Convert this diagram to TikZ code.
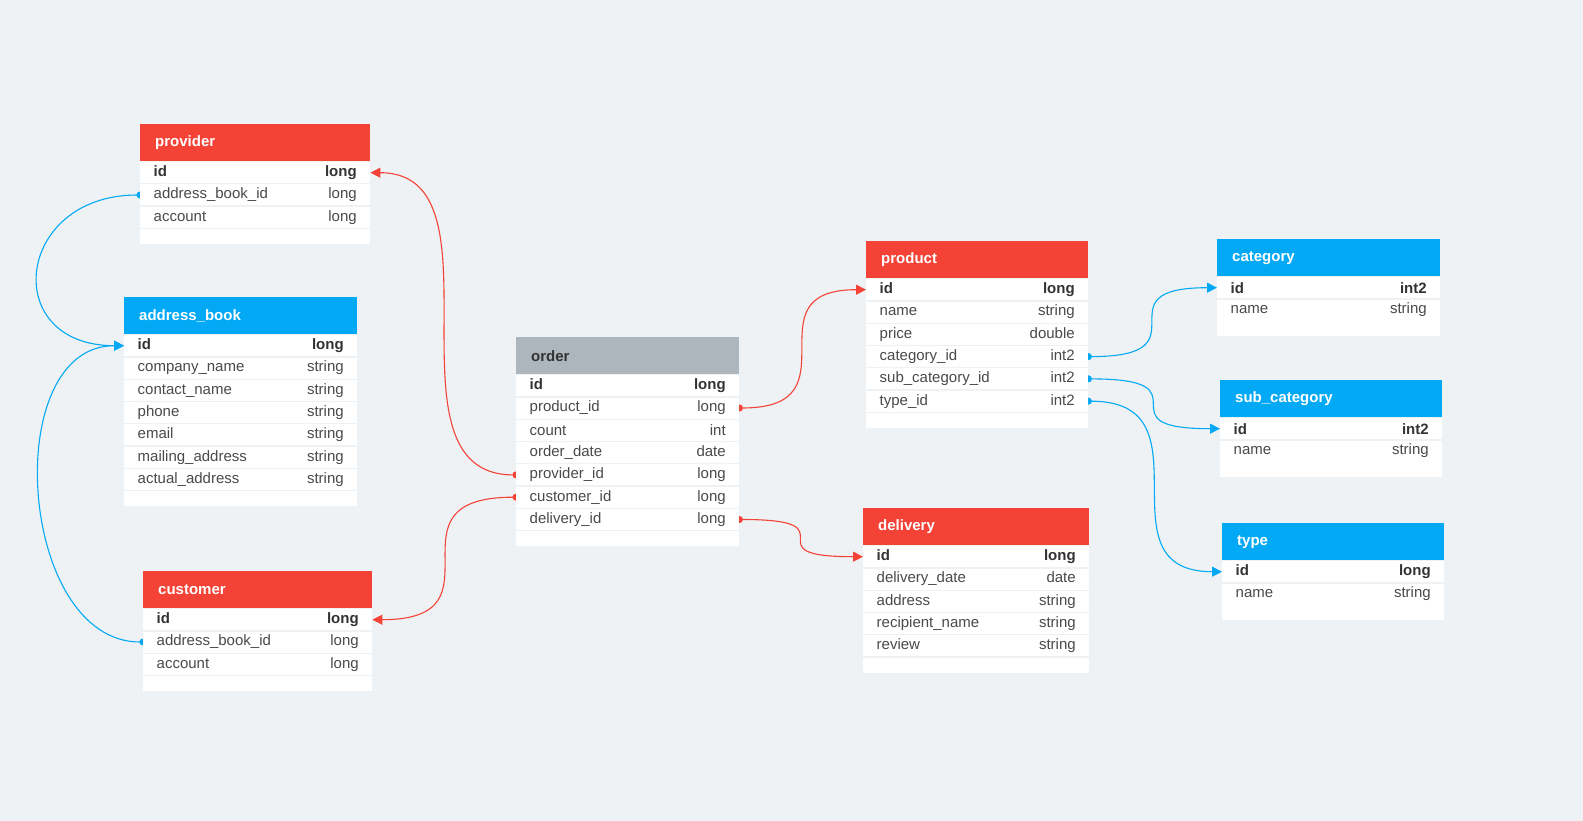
\documentclass[tikz,border=0pt]{standalone}
\usepackage{fontspec}
\setmainfont{Liberation Sans}
\usetikzlibrary{arrows.meta}
\definecolor{erdred}{HTML}{F44336}
\definecolor{erdblue}{HTML}{03A9F4}
\definecolor{erdgray}{HTML}{ADB5BD}
\definecolor{paper}{HTML}{EEF2F5}
\definecolor{ink}{HTML}{4A4A4A}
\definecolor{keyink}{HTML}{333333}
\pgfdeclarelayer{sheet}
\pgfdeclarelayer{links}
\pgfsetlayers{sheet,links,main}
\begin{document}
\begin{tikzpicture}
    [x=1pt, y=-1pt, font=\fontsize{15}{17}\selectfont,
     head/.style={anchor=north west, minimum height=37, inner xsep=15, inner ysep=0, align=left, text=white, font=\fontsize{15}{17}\selectfont\bfseries},
     row/.style={anchor=north west, fill=white, minimum height=21, inner xsep=13.5, inner ysep=0, text=ink},
     pad/.style={anchor=north west, fill=white, minimum height=15, inner sep=0},
     link/.style={line width=1.1pt, {Circle[length=7pt]}-{Triangle[length=10pt,width=10pt]}, shorten <=-3.5pt}]
		\useasboundingbox (0,0) rectangle (1583,821);
		\begin{pgfonlayer}{sheet}
			\fill[paper] (0,0) rectangle (1583,821);
		\end{pgfonlayer}

		% provider
		\node[head, fill=erdred, text width=200] (provider) at (140,124) {provider};
		\foreach \nm/\ty [count=\i] in {{\color{keyink}\textbf{id}}/{\color{keyink}\textbf{long}}, address\_book\_id/long, account/long}
			\node[row, text width=203] (provider-\i) at (140,139.7+22.3*\i) {\nm\hfill\ty};
		\node[pad, minimum width=230] at (140,229) {};

		% address_book
		\node[head, fill=erdblue, text width=203] (addressbook) at (124,297) {address\_book};
		\foreach \nm/\ty [count=\i] in {{\color{keyink}\textbf{id}}/{\color{keyink}\textbf{long}}, company\_name/string, contact\_name/string, phone/string, email/string, mailing\_address/string, actual\_address/string}
			\node[row, text width=206] (addressbook-\i) at (124,312.7+22.3*\i) {\nm\hfill\ty};
		\node[pad, minimum width=233] at (124,491) {};

		% customer
		\node[head, fill=erdred, text width=199] (customer) at (143,571) {customer};
		\foreach \nm/\ty [count=\i] in {{\color{keyink}\textbf{id}}/{\color{keyink}\textbf{long}}, address\_book\_id/long, account/long}
			\node[row, text width=202] (customer-\i) at (143,586.7+22.3*\i) {\nm\hfill\ty};
		\node[pad, minimum width=229] at (143,676) {};

		% order
		\node[head, fill=erdgray, text width=193, text=keyink] (order) at (516,337) {order};
		\foreach \nm/\ty [count=\i] in {{\color{keyink}\textbf{id}}/{\color{keyink}\textbf{long}}, product\_id/long, count/int, order\_date/date, provider\_id/long, customer\_id/long, delivery\_id/long}
			\node[row, text width=196] (order-\i) at (516,352.7+22.3*\i) {\nm\hfill\ty};
		\node[pad, minimum width=223] at (516,531) {};

		% product
		\node[head, fill=erdred, text width=192] (product) at (866,241) {product};
		\foreach \nm/\ty [count=\i] in {{\color{keyink}\textbf{id}}/{\color{keyink}\textbf{long}}, name/string, price/double, category\_id/int2, sub\_category\_id/int2, type\_id/int2}
			\node[row, text width=195] (product-\i) at (866,256.7+22.3*\i) {\nm\hfill\ty};
		\node[pad, minimum width=222] at (866,413) {};

		% delivery
		\node[head, fill=erdred, text width=196] (delivery) at (863,508) {delivery};
		\foreach \nm/\ty [count=\i] in {{\color{keyink}\textbf{id}}/{\color{keyink}\textbf{long}}, delivery\_date/date, address/string, recipient\_name/string, review/string}
			\node[row, text width=199] (delivery-\i) at (863,523.7+22.3*\i) {\nm\hfill\ty};
		\node[pad, minimum width=226] at (863,658) {};

		% category
		\node[head, fill=erdblue, text width=193] (category) at (1217,239) {category};
		\foreach \nm/\ty [count=\i] in {{\color{keyink}\textbf{id}}/{\color{keyink}\textbf{int2}}, name/string}
			\node[row, text width=196] (category-\i) at (1217,254.7+22.3*\i) {\nm\hfill\ty};
		\node[pad, minimum width=223] at (1217,321) {};

		% sub_category
		\node[head, fill=erdblue, text width=192] (subcategory) at (1220,380) {sub\_category};
		\foreach \nm/\ty [count=\i] in {{\color{keyink}\textbf{id}}/{\color{keyink}\textbf{int2}}, name/string}
			\node[row, text width=195] (subcategory-\i) at (1220,395.7+22.3*\i) {\nm\hfill\ty};
		\node[pad, minimum width=222] at (1220,462) {};

		% type
		\node[head, fill=erdblue, text width=192] (type) at (1222,523) {type};
		\foreach \nm/\ty [count=\i] in {{\color{keyink}\textbf{id}}/{\color{keyink}\textbf{long}}, name/string}
			\node[row, text width=195] (type-\i) at (1222,538.7+22.3*\i) {\nm\hfill\ty};
		\node[pad, minimum width=222] at (1222,605) {};

		% relations
		\begin{pgfonlayer}{links}
			\draw[link, erdblue] (provider-2.west) .. controls +(-125,0) and +(-125,0) .. (addressbook-1.west);
			\draw[link, erdblue] (customer-2.west) .. controls +(-125,0) and +(-125,0) .. (addressbook-1.west);
			\draw[link, erdred] (order-5.west) .. controls +(-140,0) and +(140,0) .. (provider-1.east);
			\draw[link, erdred] (order-6.west) .. controls +(-138,0) and +(138,0) .. (customer-1.east);
			\draw[link, erdred] (order-2.east) .. controls +(120,0) and +(-120,0) .. (product-1.west);
			\draw[link, erdred] (order-7.east) .. controls +(118,0) and +(-118,0) .. (delivery-1.west);
			\draw[link, erdblue] (product-4.east) .. controls +(122,0) and +(-122,0) .. (category-1.west);
			\draw[link, erdblue] (product-5.east) .. controls +(124,0) and +(-124,0) .. (subcategory-1.west);
			\draw[link, erdblue] (product-6.east) .. controls +(126,0) and +(-126,0) .. (type-1.west);
		\end{pgfonlayer}
    \end{tikzpicture}
\end{document}
